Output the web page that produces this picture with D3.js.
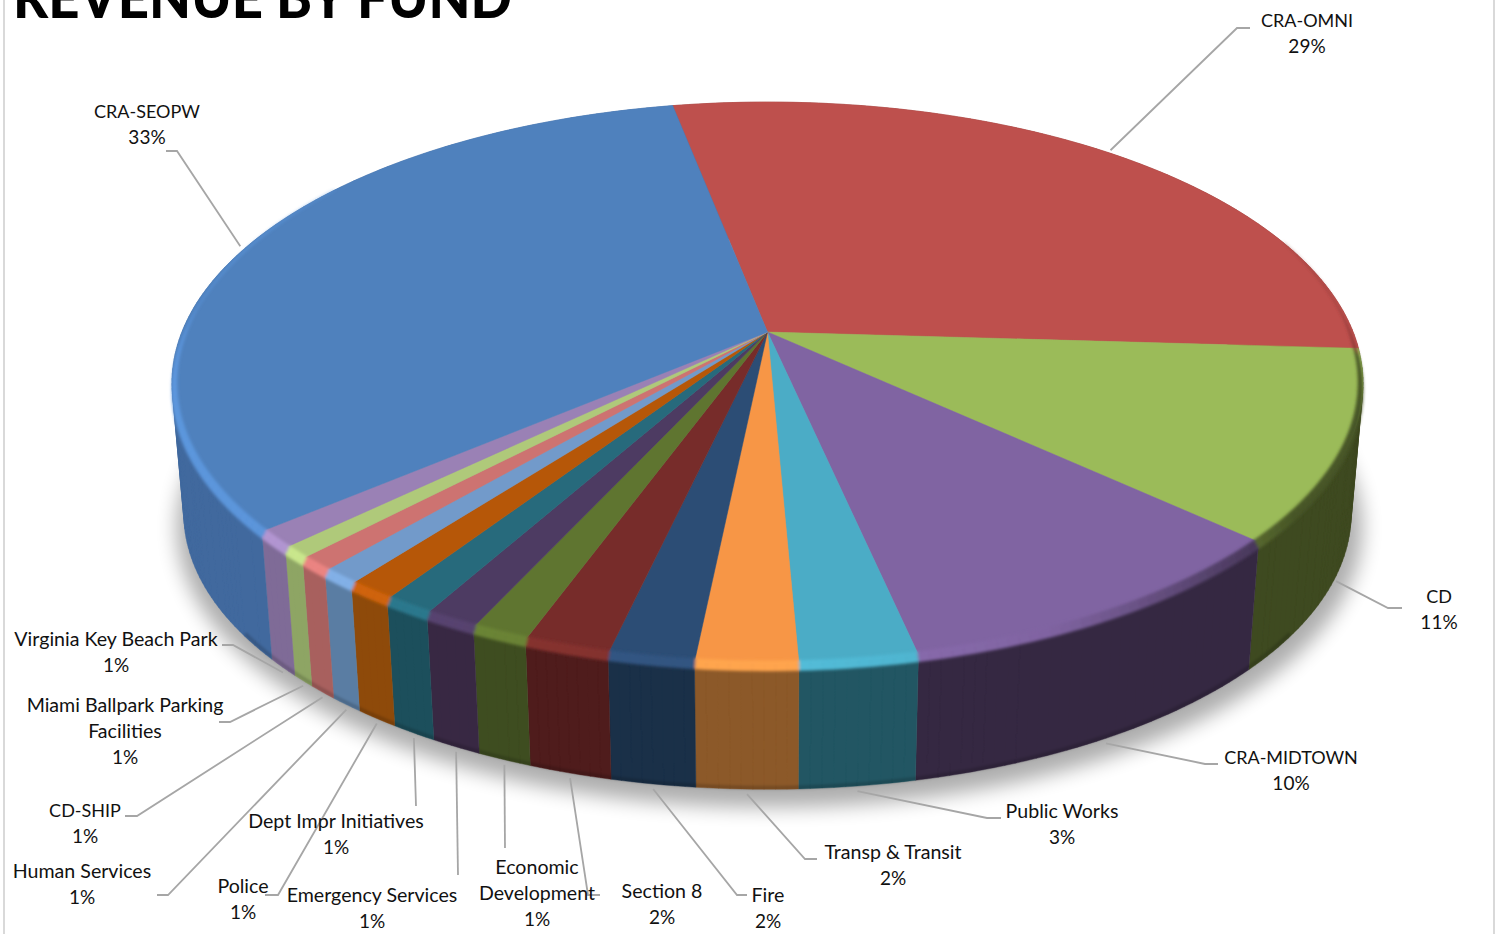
<!DOCTYPE html>
<html>
<head>
<meta charset="utf-8">
<script src="https://cdn.jsdelivr.net/npm/d3@7/dist/d3.min.js"></script>
<style>
  html, body { margin: 0; padding: 0; background: #fff; }
  svg { display: block; }
  text { font-family: Lato, "Open Sans", sans-serif; fill: #111; }
</style>
</head>
<body>
<svg id="chart" width="1499" height="934"></svg>
<script>
// Revenue share of each fund, clockwise from the CRA-OMNI slice
const funds = ["CRA-OMNI", "CD", "CRA-MIDTOWN", "Public Works", "Transp & Transit", "Fire", "Section 8",
  "Economic Development", "Emergency Services", "Dept Impr Initiatives", "Police", "Human Services",
  "CD-SHIP", "Miami Ballpark Parking Facilities", "Virginia Key Beach Park", "CRA-SEOPW"];
const shares = [29.0, 10.9, 9.75, 2.7, 2.33, 1.97, 1.97, 1.32, 1.25, 1.15, 1.12, 0.89, 0.81, 0.68, 1.0, 33.15];
const faceColors = ["#be504d", "#9bbb59", "#8064a2", "#4bacc6", "#f79646", "#2c4d75", "#772c2a", "#5f7530",
  "#4d3b62", "#276a7c", "#b65708", "#729aca", "#cd7371", "#afc97a", "#9a81b5", "#4f81bd"];
const wallColors = ["#8a3836", "#3e4a20", "#352842", "#225663", "#8c5929", "#1a3048", "#4f1c1c", "#3e4d20",
  "#382843", "#1c4f5c", "#8e4a0a", "#5a7da3", "#a8605e", "#8ea564", "#7f6b97", "#41699e"];

// Wrapped label lines and callout layout, in slice order
const labelLines = [["CRA-OMNI"], ["CD"], ["CRA-MIDTOWN"], ["Public Works"], ["Transp & Transit"], ["Fire"], ["Section 8"],
  ["Economic", "Development"], ["Emergency Services"], ["Dept Impr Initiatives"], ["Police"], ["Human Services"],
  ["CD-SHIP"], ["Miami Ballpark Parking", "Facilities"], ["Virginia Key Beach Park"], ["CRA-SEOPW"]];
const labelAnchors = [[1307, 20], [1439, 596], [1291, 757], [1062, 811], [893, 852], [768, 895], [662, 891],
  [537, 867], [372, 895], [336, 821], [243, 886], [82, 871], [85, 810], [125, 705], [116, 639], [147, 111]];
const calloutElbows = [
  [[1237, 28], [1250, 28]], [[1388, 608], [1402, 608]], [[1205, 764], [1218, 764]], [[987, 818], [1001, 818]],
  [[805, 859], [817, 859]], [[737, 895], [747, 895]], [[588, 895], [600, 895]], [[505, 848]], [[458, 875]],
  [[416, 806]], [[278, 895], [265, 895]], [[168, 895], [157, 895]], [[137, 816], [125, 816]],
  [[230, 722], [219, 722]], [[233, 645], [222, 645]], [[177, 151], [166, 151]]];

const LINE_HEIGHT = 26.3;
const deg = Math.PI / 180;

// Perspective view of the disc: the hub sits above the centre of its drawn ellipse
const view = { cx: 767.5, cy: 332, rx: 585.6, ry: 271.7, k: 0.1815, wallDrop: 132, wallScale: 0.98 };

function project(angle, radius, onBase) {
  const u = radius * Math.sin(angle), v = -radius * Math.cos(angle);
  const w = 1 / (1 - view.k * v);
  let x = view.rx * u * w, y = view.ry * v * w;
  if (onBase) {
    x *= view.wallScale;
    y = y * view.wallScale + view.wallDrop;
  }
  return [view.cx + x, view.cy + y];
}

// Sample an arc of the rim between two angles
function rim(a0, a1, radius, onBase) {
  const n = Math.max(2, Math.ceil(Math.abs(a1 - a0) / deg));
  return d3.range(n + 1).map(i => project(a0 + (a1 - a0) * i / n, radius, onBase));
}

const slices = d3.pie().sort(null).value(d => d)
  .startAngle(-11 * deg).endAngle(349 * deg)(shares);

// One slice cut into one-degree pieces, for the wall and the rounded edge
const pieces = (d, i) => {
  const lo = d.startAngle, hi = d.endAngle, n = Math.max(1, Math.ceil((hi - lo) / deg));
  return d3.range(n).map(j => ({ a0: lo + (hi - lo) * j / n, a1: lo + (hi - lo) * (j + 1) / n, i }));
};
const segments = slices.flatMap(pieces);

const closed = d3.line().curve(d3.curveLinearClosed);
const open = d3.line();
const svg = d3.select("#chart");

const defs = svg.append("defs");
defs.append("filter").attr("id", "soft").attr("x", "-10%").attr("y", "-10%").attr("width", "120%").attr("height", "130%")
  .append("feGaussianBlur").attr("stdDeviation", 10);
defs.append("filter").attr("id", "bevel").attr("x", "-5%").attr("y", "-5%").attr("width", "110%").attr("height", "110%")
  .append("feGaussianBlur").attr("stdDeviation", 1.4);

// Page frame lines
svg.selectAll("line.frame").data([4, 1494]).join("line").attr("class", "frame")
  .attr("x1", d => d).attr("x2", d => d).attr("y1", 0).attr("y2", 934)
  .attr("stroke", "#d9d9d9").attr("stroke-width", 2);

// Title runs off the top edge of the page
svg.append("text").attr("x", 13).attr("y", 18)
  .attr("font-size", 58).attr("font-weight", 900)
  .attr("textLength", 499).attr("lengthAdjust", "spacingAndGlyphs")
  .style("fill", "#000").text("REVENUE BY FUND");

// Drop shadow under the whole pie
svg.append("path")
  .attr("d", closed(rim(0, 2 * Math.PI - deg, 1.015, true)))
  .attr("transform", "translate(2,12)")
  .attr("fill", "#000").attr("opacity", 0.32).attr("filter", "url(#soft)");

// Outer wall: one path per slice, swept from the top rim down to the base rim.
// Every quad is wound the same way so overlapping ones never cancel out.
const wallQuad = s => {
  const quad = [project(s.a0, 1, false), project(s.a1, 1, false), project(s.a1, 1, true), project(s.a0, 1, true)];
  return closed(d3.polygonArea(quad) < 0 ? quad.reverse() : quad);
};
svg.append("g").selectAll("path").data(slices).join("path")
  .attr("d", (d, i) => pieces(d, i).map(wallQuad).join(""))
  .attr("fill", (d, i) => wallColors[i])
  .attr("stroke", (d, i) => wallColors[i]).attr("stroke-width", 0.4);

// Darker line where the wall meets the ground at the front
svg.append("path")
  .attr("d", open(rim(125 * deg, 235 * deg, 0.996, true)))
  .attr("fill", "none").attr("stroke", "#000").attr("stroke-opacity", 0.22).attr("stroke-width", 3)
  .attr("filter", "url(#bevel)");

// Top face of each slice
svg.append("g").selectAll("path").data(slices).join("path")
  .attr("d", d => closed([project(0, 0, false)].concat(rim(d.startAngle, d.endAngle, 1, false))))
  .attr("fill", (d, i) => faceColors[i])
  .attr("stroke", (d, i) => faceColors[i]).attr("stroke-width", 0.5);

// Rounded edge of the disc, lit from the left and falling into shade on the right.
// It tapers away towards the back of the disc.
const midAngle = s => ((s.a0 + s.a1) / 2 + 2 * Math.PI) % (2 * Math.PI);
const BEVEL_FROM = 70 * deg, BEVEL_TO = 305 * deg;
const bevelTaper = a => Math.min(1, (a - BEVEL_FROM) / (22 * deg), (BEVEL_TO - a) / (35 * deg));

function bevelColor(s) {
  const u = Math.sin(midAngle(s));
  const face = faceColors[s.i], wall = wallColors[s.i];
  const lit = d3.rgb(face).brighter(0.25 + Math.max(0, -u) * 0.2).formatHex();
  if (u <= 0.05) return lit;
  if (u <= 0.4) return d3.interpolateRgb(lit, face)((u - 0.05) / 0.35);
  return d3.interpolateRgb(face, wall)(Math.min(0.9, (u - 0.4) / 0.45));
}

const bevelPiece = (a, t, inner) => {
  const p = project(a, inner ? 1 - 0.008 * t : 1, false);
  return inner ? p : [p[0], p[1] + 7 * t];
};
svg.append("g").attr("filter", "url(#bevel)").selectAll("path")
  .data(segments.filter(s => midAngle(s) > BEVEL_FROM && midAngle(s) < BEVEL_TO))
  .join("path")
  .attr("d", s => {
    const m = midAngle(s), t = Math.max(0, bevelTaper(m));
    return closed([bevelPiece(s.a0, t, true), bevelPiece(s.a1, t, true), bevelPiece(s.a1, t, false), bevelPiece(s.a0, t, false)]);
  })
  .attr("fill", bevelColor).attr("stroke", bevelColor).attr("stroke-width", 0.5);

// Callout lines from the rim out to each label
svg.append("g").selectAll("path").data(slices).join("path")
  .attr("d", (d, i) => {
    const mid = (d.startAngle + d.endAngle) / 2;
    const onBase = -Math.cos(mid) > view.k;
    const p = onBase ? project(mid, 1, true) : project(mid, 1.012, false);
    return open([onBase ? [p[0], p[1] + 5] : p].concat(calloutElbows[i]));
  })
  .attr("fill", "none").attr("stroke", "#a6a6a6").attr("stroke-width", 1.8);

// Name and share labels, centred on their anchors; all-capital names are set smaller
const nameSize = t => (t === t.toUpperCase() ? 18 : 19.6);
const labels = svg.append("g").selectAll("text").data(slices).join("text")
  .attr("text-anchor", "middle").attr("font-size", 19);
labels.selectAll("tspan")
  .data((d, i) => labelLines[i].map((t, n) => ({ t, n, i, size: nameSize(t) }))
    .concat({ t: d3.format(".0f")(d.value) + "%", n: labelLines[i].length, i, size: 19 }))
  .join("tspan")
  .attr("x", l => labelAnchors[l.i][0])
  .attr("y", l => labelAnchors[l.i][1] + 6.5 + l.n * LINE_HEIGHT)
  .attr("font-size", l => l.size)
  .text(l => l.t);
</script>
</body>
</html>
